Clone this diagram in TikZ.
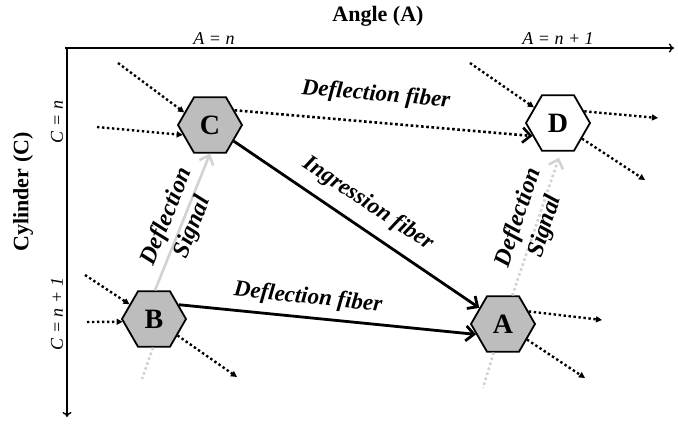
\documentclass[tikz,border=0pt]{standalone}
\usepackage{fontspec}
\setmainfont{Liberation Serif}
\usetikzlibrary{arrows.meta,shapes.geometric}
\begin{document}
\begin{tikzpicture}[x=1pt,y=-1pt,
  hexnode/.style={regular polygon, regular polygon sides=6, minimum size=64pt, inner sep=0pt,
    draw=black, line width=1.8pt, fill=gray!52, font=\fontsize{28}{30}\selectfont\bfseries},
  axisline/.style={line width=1.4pt, -{To[length=5pt,width=9pt]}},
  fiber/.style={line width=2.8pt, -{Straight Barb[length=8pt,width=15pt]}},
  dotfiber/.style={line width=2.6pt, dash pattern=on 2.6pt off 2.6pt, -{Straight Barb[length=8pt,width=15pt]}},
  dotarrow/.style={line width=2.4pt, dash pattern=on 2.4pt off 2.6pt, -{Triangle[length=6pt,width=6pt]}},
  signal/.style={line width=2.6pt, draw=gray!35, -{Straight Barb[length=8pt,width=15pt]}},
  dotsignal/.style={line width=2.6pt, draw=gray!35, dash pattern=on 2.6pt off 2.6pt},
  flabel/.style={font=\fontsize{23}{25}\selectfont\bfseries\itshape, inner sep=1pt},
  slabel/.style={font=\fontsize{24}{28}\selectfont\bfseries\itshape, align=center, inner sep=1pt},
  axlabel/.style={font=\fontsize{22}{24}\selectfont\bfseries, inner sep=0pt},
  tick/.style={font=\fontsize{18}{20}\selectfont\itshape, inner sep=0pt}
]
\useasboundingbox (0,0) rectangle (678,424);

% axes
\coordinate (o) at (65,48);
\coordinate (xe) at (674,48);
\coordinate (ov) at (67,47);
\coordinate (ye) at (67,417);
\draw[axisline] (o) -- (xe);
\draw[axisline] (ov) -- (ye);
\node[axlabel] (angle) at (378,16) {Angle (A)};
\node[axlabel, rotate=90] (cyl) at (23,192) {Cylinder (C)};
\node[tick] (an) at (214,39) {A = n};
\node[tick] (an1) at (558,39) {A = n + 1};
\node[tick, rotate=90] (cn) at (57,122) {C = n};
\node[tick, rotate=90] (cn1) at (57,314) {C = n + 1};

% nodes
\node[hexnode] (C) at (210,125) {C};
\node[hexnode, fill=white] (D) at (558,123) {D};
\node[hexnode] (B) at (154,319) {B};
\node[hexnode] (A) at (503,324) {A};

% deflection signals
\coordinate (bt) at (142,379);
\coordinate (at) at (483,388);
\draw[signal] (B.88) -- (C.270);
\draw[dotsignal] (B.268) -- (bt);
\draw[dotsignal, -{Straight Barb[length=8pt,width=15pt]}] (A.72) -- ([yshift=-6pt]D.272);
\draw[dotsignal] (A.252) -- (at);

% fibers
\draw[dotfiber] (C.31) -- (D.207);
\draw[fiber] (C) -- (A);
\draw[fiber] (B.30) -- (A.201);

% dotted stubs
\coordinate (c1) at (118,63);
\coordinate (c2) at (97,127);
\coordinate (d1) at (470,63);
\coordinate (d2) at (658,118);
\coordinate (d3) at (645,180);
\coordinate (b1) at (85,275);
\coordinate (b2) at (87,322);
\coordinate (b3) at (237,377);
\coordinate (a1) at (602,320);
\coordinate (a2) at (585,378);
\draw[dotarrow] (c1) -- (C.154);
\draw[dotarrow] (c2) -- (C.200);
\draw[dotarrow] (d1) -- (D.147);
\draw[dotarrow] (D.24) -- (d2);
\draw[dotarrow] (D.-33) -- (d3);
\draw[dotarrow] (b1) -- (B.149);
\draw[dotarrow] (b2) -- (B.185);
\draw[dotarrow] (B.-35) -- (b3);
\draw[dotarrow] (A.26) -- (a1);
\draw[dotarrow] (A.-33) -- (a2);

% labels
\node[flabel, rotate=-5] (l1) at (376,95) {Deflection fiber};
\node[flabel, rotate=-33.5] (l2) at (368,204) {Ingression fiber};
\node[flabel, rotate=-6] (l3) at (308,298) {Deflection fiber};
\node[slabel, rotate=68] (l4) at (180,222) {Deflection\\Signal};
\node[slabel, rotate=72] (l5) at (532,222) {Deflection\\Signal};
\end{tikzpicture}
\end{document}
